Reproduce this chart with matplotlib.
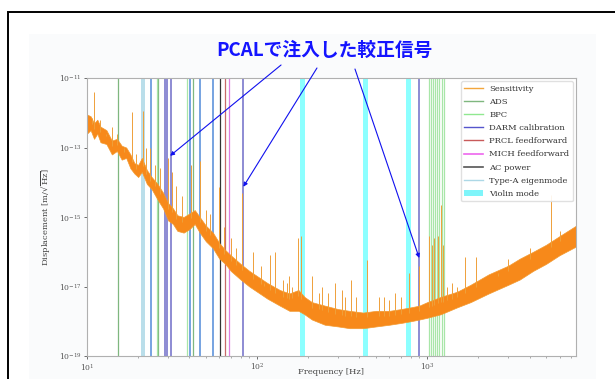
import matplotlib
matplotlib.use("Agg")
import matplotlib.pyplot as plt
from matplotlib.patches import Rectangle, Patch
from matplotlib.lines import Line2D
import numpy as np

# sensitivity band (log10 of displacement)
env_freq = [10, 10.5, 11, 11.5, 12, 13, 14, 15, 16, 17, 18, 19, 20, 21, 22.5, 24, 26, 28,
            30, 32, 34, 37, 40, 43, 46, 50, 55, 60, 65, 70, 80, 90, 100, 115, 136, 155,
            175, 190, 210, 250, 300, 350, 420, 500, 600, 700, 800, 900, 1000, 1200, 1500,
            1800, 2300, 3000, 3500, 4200, 5000, 6000, 7500]
env_low = [-12.6, -12.5, -12.75, -12.6, -12.85, -12.9, -13.2, -13.1, -13.35, -13.3, -13.6,
           -13.75, -13.85, -13.7, -14.05, -14.2, -14.5, -14.75, -15.1, -15.2, -15.4, -15.45,
           -15.35, -15.2, -15.45, -15.7, -15.9, -16.2, -16.35, -16.55, -16.8, -17.0, -17.15,
           -17.35, -17.55, -17.7, -17.7, -17.8, -17.95, -18.1, -18.15, -18.2, -18.2, -18.15,
           -18.1, -18.05, -18.0, -17.95, -17.9, -17.8, -17.6, -17.45, -17.2, -16.95, -16.8,
           -16.55, -16.35, -16.1, -15.85]
env_high = [-12.05, -12.1, -12.3, -12.2, -12.4, -12.5, -12.8, -12.75, -12.95, -13.0, -13.2,
            -13.45, -13.5, -13.3, -13.65, -13.85, -14.05, -14.3, -14.6, -14.75, -14.95, -15.0,
            -14.9, -14.8, -15.0, -15.25, -15.45, -15.75, -15.95, -16.1, -16.35, -16.55, -16.7,
            -16.9, -17.1, -17.2, -17.1, -17.3, -17.45, -17.55, -17.65, -17.7, -17.75, -17.7,
            -17.7, -17.65, -17.6, -17.55, -17.45, -17.3, -17.15, -16.95, -16.65, -16.4, -16.2,
            -16.0, -15.8, -15.55, -15.25]

# line peaks sticking out of the band
peak_freq = [10.7, 11.0, 12.0, 13.0, 14.1, 15.1, 16.5, 18.3, 19.5, 21.3, 22.3, 23.6, 25.0,
             27.0, 30.1, 31.5, 33.5, 36.0, 41.0, 46.0, 50.0, 53.0, 60.0, 64.0, 70.0, 75.0,
             81.4, 95, 105, 110, 119, 128, 142, 150, 155, 160, 174, 182, 210, 230, 240, 260,
             288, 314, 330, 356, 380, 440, 520, 558, 600, 650, 700, 783, 900, 1030, 1070,
             1100, 1160, 1200, 1240, 1300, 1400, 1500, 1660, 1940, 2600, 3000, 4000, 5330, 6000]
peak_top = [-12.15, -11.4, -12.2, -12.6, -12.4, -12.6, -13.0, -11.97, -13.2, -11.95, -13.0,
            -13.0, -13.5, -13.6, -13.3, -13.7, -14.1, -14.4, -13.5, -13.4, -14.8, -14.9,
            -14.13, -15.3, -15.6, -15.9, -14.3, -16.0, -16.4, -16.9, -16.1, -16.0, -16.8,
            -16.9, -16.7, -17.0, -15.6, -15.55, -16.7, -17.2, -17.0, -17.2, -16.9, -17.1,
            -17.3, -16.8, -17.3, -16.24, -17.3, -17.3, -17.4, -17.2, -17.3, -16.6, -16.4,
            -15.55, -15.8, -15.6, -15.55, -14.65, -15.8, -17.0, -16.9, -17.0, -16.14, -16.14,
            -16.6, -16.2, -15.9, -14.37, -15.4]

# vertical markers [Hz]
ads_freqs = [15.3, 26.2, 41.9]
bpc_freqs = [25.7, 38.9, 1028, 1052, 1080, 1114, 1149, 1181, 1221, 1249]
darm_freqs = [28.8, 29.7, 31.0, 82.4, 898]
prcl_freqs = [64.5]
mich_freqs = [68.2]
ac_freqs = [60.8]
typea_freqs = [21.1, 21.7]
other_freqs = [23.7, 40.4, 46.2, 55.3]
violin_lo = [179, 419, 752]
violin_hi = [191, 448, 805]

# PCAL lines pointed at by the arrows
pcal_freq = [30.8, 83, 898]
pcal_level = [-13.24, -14.13, -16.18]
arrow_start = [(0.457, 0.8285), (0.5154, 0.8206), (0.5772, 0.8179)]

plt.rcParams['font.family'] = 'DejaVu Serif'
plt.rcParams['mathtext.fontset'] = 'dejavuserif'

fig = plt.figure(figsize=(6.15, 3.79), dpi=100)
fig.patches.append(Rectangle((29/615, -0.1), 567/615, 1.1 - 34/379, transform=fig.transFigure,
                             facecolor='#fafbfc', edgecolor='none', zorder=0))
fig.patches.append(Rectangle((8/615, -0.1), 1.0, 1.1 - 12.5/379, transform=fig.transFigure,
                             facecolor='none', edgecolor='black', lw=1.4, zorder=1))

ax = fig.add_axes([87/615, 1 - 356/379, 489/615, 278/379])
ax.set_zorder(3)
ax.set_xscale('log')
ax.set_yscale('log')
ax.set_xlim(10, 7500)
ax.set_ylim(1e-19, 1e-11)

def vl(freqs, color, lw=0.9, alpha=1.0):
    for f in freqs:
        ax.axvline(f, color=color, lw=lw, alpha=alpha, zorder=1)

for lo, hi in zip(violin_lo, violin_hi):
    ax.axvspan(lo, hi, color='cyan', alpha=0.45, lw=0, zorder=1)
vl(ads_freqs, '#7fb77f')
vl(bpc_freqs, '#a8e6a8')
vl(typea_freqs, '#add8e6', lw=1.2)
vl(other_freqs, '#5f93dc', lw=1.2)
vl(darm_freqs, '#7a78cc', lw=1.2)
vl(prcl_freqs, '#c86a6a')
vl(mich_freqs, '#e07ee0')
vl(ac_freqs, '#333333')

ef = np.array(env_freq)
lo = 10 ** np.array(env_low)
hi = 10 ** np.array(env_high)
ax.fill_between(ef, lo, hi, color='#f7891a', lw=0.5, edgecolor='#f39a30', zorder=2)
base = 10 ** np.interp(np.log10(peak_freq), np.log10(ef), np.array(env_high))
ax.vlines(peak_freq, base * 0.7, 10 ** np.array(peak_top), color='#efa03a', lw=0.7, zorder=2)

for s in ax.spines.values():
    s.set_color('#b0b0b0')
ax.set_yticks([1e-19, 1e-17, 1e-15, 1e-13, 1e-11])
ax.yaxis.set_minor_locator(matplotlib.ticker.NullLocator())
ax.tick_params(labelsize=5.5, colors='#555555', length=2.5, width=0.6, pad=1.5)
ax.tick_params(which='minor', length=1.5, width=0.5, colors='#888888')
ax.set_xlabel('Frequency [Hz]', fontsize=6, color='#444444')
ax.xaxis.set_label_coords(0.5, -0.043)
ax.set_ylabel(r'Displacement [m/$\sqrt{\mathrm{Hz}}$]', fontsize=6, color='#444444', labelpad=4)

handles = [Line2D([], [], color='#f3a63c', lw=1.0),
           Line2D([], [], color='#7fb77f', lw=1.0),
           Line2D([], [], color='#90e890', lw=1.0),
           Line2D([], [], color='#5555cc', lw=1.0),
           Line2D([], [], color='#c85a5a', lw=1.0),
           Line2D([], [], color='#ee66ee', lw=1.2),
           Line2D([], [], color='#555555', lw=1.2),
           Line2D([], [], color='#add8e6', lw=1.0),
           Patch(facecolor='#7ff5fa', edgecolor='none')]
labels = ['Sensitivity', 'ADS', 'BPC', 'DARM calibration', 'PRCL feedforward',
          'MICH feedforward', 'AC power', 'Type-A eigenmode', 'Violin mode']
leg = ax.legend(handles, labels, loc='upper right', fontsize=6, labelspacing=0.62,
                handlelength=2.2, handletextpad=0.8, borderaxespad=0.4, framealpha=0.9,
                edgecolor='#dddddd')
for t in leg.get_texts():
    t.set_color('#333333')
leg.set_zorder(5)

fig.text(324/615, 1 - 50.7/379, 'PCALで注入した較正信号', ha='center', va='center',
         fontsize=13.5, fontweight='bold', color='#1414ff',
         family=['Noto Sans CJK JP', 'DejaVu Sans'], zorder=4)

for f, lvl, st in zip(pcal_freq, pcal_level, arrow_start):
    ax.annotate('', xy=(f, 10 ** lvl), xycoords='data', xytext=st, textcoords='figure fraction',
                arrowprops=dict(arrowstyle='-|>', color='#1010ee', lw=0.8, mutation_scale=6,
                                shrinkA=0, shrinkB=0), annotation_clip=False, zorder=6)

fig.savefig('out.png', dpi=100)
